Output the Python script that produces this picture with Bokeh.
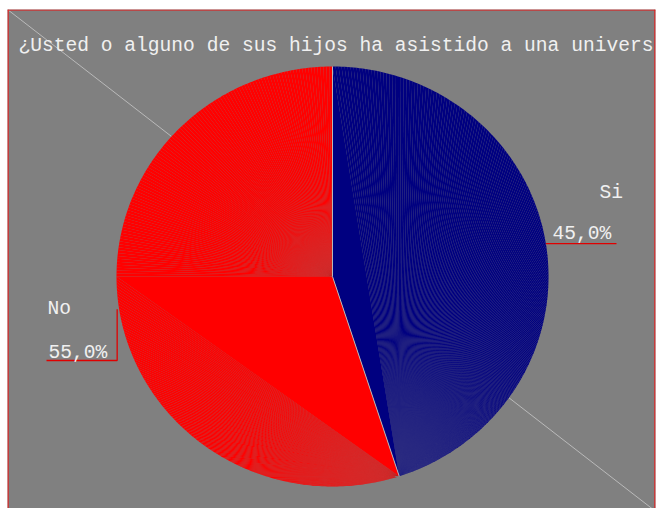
import numpy as np
from bokeh.plotting import figure
from bokeh.models import Range1d, Span
from bokeh.embed import file_html
from bokeh.resources import INLINE
from bokeh.core.properties import value

# ---- data ----
title_text = "¿Usted o alguno de sus hijos ha asistido a una univers"
categories = ["Si", "No"]
values = [45.0, 55.0]
pct_labels = ["45,0%", "55,0%"]
colors = ["#000080", "#ff0000"]

# ---- layout (frame coordinates, y grows downward) ----
FW, FH = 648, 499            # frame size
CX, CY = 325.0, 267.0        # pie centre
RX, RY = 216.0, 210.0        # pie radii
FONT = value("Liberation Mono")
FSIZE = "19.6px"
TXT = "#f0f0f0"
BG = "#808080"
RED_LINE = "#e00000"
FRAME_RED = "#f01010"
STEP = 0.8  # degrees per fan segment

p = figure(width=656, height=508, x_range=Range1d(0, FW), y_range=Range1d(FH, 0),
           output_backend="svg", toolbar_location=None,
           min_border_left=7, min_border_top=9, min_border_right=1, min_border_bottom=0,
           x_axis_location=None, y_axis_location=None)
p.grid.visible = False
p.background_fill_color = BG
p.border_fill_color = "white"
p.outline_line_color = None

# red frame on left, top and right
for loc, dim in ((0.5, "height"), (FW - 0.5, "height"), (0.5, "width")):
    p.add_layout(Span(location=loc, dimension=dim, line_color=FRAME_RED, line_width=1.2))


def pt(theta):
    t = np.radians(theta)
    return CX + RX * np.sin(t), CY - RY * np.cos(t)


def fan(pivot, a0, a1, xs, ys):
    n = max(1, int(round((a1 - a0) / STEP)))
    ang = np.linspace(a0, a1, n + 1)
    for i in range(n):
        x1, y1 = pt(ang[i])
        x2, y2 = pt(ang[i + 1])
        xs.append([pivot[0], x1, x2])
        ys.append([pivot[1], y1, y2])


# diagonal guide line behind the pie
p.line([0, FW], [0, FW * 501.0 / 647.0], line_color="#c8c8c8", line_width=0.8)

# opaque backing of the pie
full = np.linspace(0, 360, 361)
bx, by = pt(full)
p.patch(bx, by, fill_color=BG, line_alpha=0)

total = sum(values)
angles = []
a = 0.0
for v in values:
    angles.append((a, a + 360.0 * v / total))
    a += 360.0 * v / total

for (a0, a1), col in zip(angles, colors):
    xs, ys = [], []
    if a1 - a0 <= 180:
        pa0, pa1 = pt(a0), pt(a1)
        xs.append([CX, pa0[0], pa1[0]])
        ys.append([CY, pa0[1], pa1[1]])
        fan(pa1, a0, a1, xs, ys)
    else:
        mid = 270.0
        ps, pm = pt(a0), pt(mid)
        xs.append([CX, ps[0], pm[0]])
        ys.append([CY, ps[1], pm[1]])
        fan(ps, a0, mid, xs, ys)
        fan((CX, CY), mid, a1, xs, ys)
    p.patches(xs, ys, fill_color=col, line_alpha=0)

# sector edges
for ang in angles[0]:
    ex, ey = pt(ang)
    p.line([CX, ex], [CY, ey], line_color="#b8b8b8", line_width=1)

# title
p.text(x=[11], y=[36], text=[title_text], text_font=FONT, text_font_size=FSIZE,
       text_color=TXT, text_baseline="alphabetic", text_align="left")

# labels with leader lines
lab_pos = [(592, 183), (40, 299)]
pct_pos = [(545, 224), (41, 343)]
for i, ((a0, a1), cat, pl) in enumerate(zip(angles, categories, pct_labels)):
    midang = (a0 + a1) / 2
    sx, sy = pt(midang)
    if i == 0:
        lx, ly = [sx, 609], [sy, sy]
    else:
        lx, ly = [sx - 2, sx - 2, 39], [sy, 351, 351]
    p.line(lx, ly, line_color=RED_LINE, line_width=1.3)
    p.text(x=[lab_pos[i][0]], y=[lab_pos[i][1]], text=[cat], text_font=FONT,
           text_font_size=FSIZE, text_color=TXT, text_baseline="alphabetic")
    p.text(x=[pct_pos[i][0]], y=[pct_pos[i][1]], text=[pl], text_font=FONT,
           text_font_size=FSIZE, text_color=TXT, text_baseline="alphabetic")

open("out.html", "w").write(file_html(p, INLINE))
